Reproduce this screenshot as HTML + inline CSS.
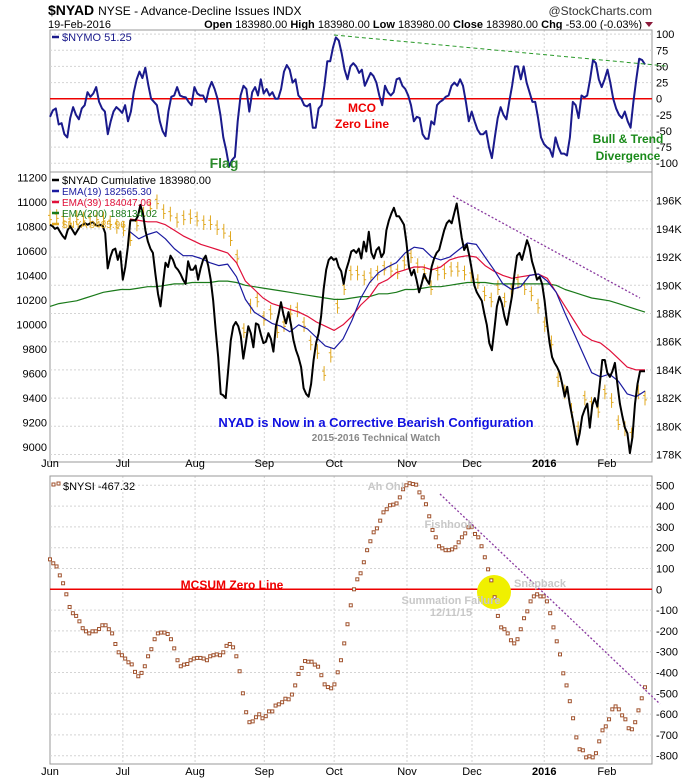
<!DOCTYPE html>
<html><head><meta charset="utf-8"><style>
body{margin:0;background:#fff}
svg{display:block;font-family:"Liberation Sans",sans-serif}
</style></head><body>
<svg id="c" width="700" height="780" viewBox="0 0 700 780">
<g>
<text x="48" y="15" font-size="14" font-weight="bold">$NYAD <tspan font-weight="normal" font-size="12">NYSE - Advance-Decline Issues INDX</tspan></text>
<text x="652" y="15" font-size="12" text-anchor="end" fill="#333">@StockCharts.com</text>
<text x="48" y="28" font-size="11">19-Feb-2016</text>
<text x="642" y="28" font-size="11" text-anchor="end"><tspan font-weight="bold">Open</tspan> 183980.00 <tspan font-weight="bold">High</tspan> 183980.00 <tspan font-weight="bold">Low</tspan> 183980.00 <tspan font-weight="bold">Close</tspan> 183980.00 <tspan font-weight="bold">Chg</tspan> -53.00 (-0.03%)</text>
<path d="M645,22 L653,22 L649,27 Z" fill="#8b1a3a"/>
</g>
<g id="grid"></g>
<g id="marks"></g>
<g id="anno" font-weight="bold">
<text x="362" y="112" fill="#e00" font-size="12" text-anchor="middle">MCO</text>
<text x="362" y="128" fill="#e00" font-size="12" text-anchor="middle">Zero Line</text>
<text x="224" y="168" fill="#2a8a2a" font-size="14" text-anchor="middle">Flag</text>
<text x="628" y="143" fill="#1a8a1a" font-size="12" text-anchor="middle">Bull &amp; Trend</text>
<text x="628" y="160" fill="#1a8a1a" font-size="12" text-anchor="middle">Divergence</text>
<text x="376" y="427" fill="#1010e0" font-size="13" text-anchor="middle">NYAD is Now in a Corrective Bearish Configuration</text>
<text x="376" y="441" fill="#888" font-size="10" text-anchor="middle">2015-2016 Technical Watch</text>
<text x="232" y="589" fill="#e00" font-size="12" text-anchor="middle">MCSUM Zero Line</text>
<text x="386" y="490" fill="#c8c8c8" font-size="11" text-anchor="middle">Ah Oh!</text>
<text x="449" y="528" fill="#c8c8c8" font-size="11" text-anchor="middle">Fishhook</text>
<text x="540" y="587" fill="#c8c8c8" font-size="11" text-anchor="middle">Snapback</text>
<text x="451" y="604" fill="#c8c8c8" font-size="11" text-anchor="middle">Summation Failure</text>
<text x="451" y="616" fill="#c8c8c8" font-size="11" text-anchor="middle">12/11/15</text>
</g>
</svg>
<script>
const months=["Jun","Jul","Aug","Sep","Oct","Nov","Dec","2016","Feb"];
const monthFrac=[0,0.121,0.241,0.356,0.472,0.593,0.701,0.821,0.925];
const moTicks=[100,75,50,25,0,-25,-50,-75,-100];
const nyaTicks=[11200,11000,10800,10600,10400,10200,10000,9800,9600,9400,9200,9000];
const adTicks=[196,194,192,190,188,186,184,182,180,178];
const siTicks=[500,400,300,200,100,0,-100,-200,-300,-400,-500,-600,-700,-800];
const nymo=[-28,-18,-15,-40,-38,-55,-60,-30,-13,-25,-32,-15,-10,10,3,8,18,-5,-15,-20,-55,-35,-20,-13,-17,-22,-10,-35,-20,10,30,42,32,48,22,0,-5,-10,-35,-50,-58,-20,3,5,18,5,3,2,-5,-10,18,8,5,5,-5,15,26,15,0,-25,-60,-80,-105,-95,-90,-35,5,20,15,-20,10,18,5,30,8,15,5,10,0,0,15,42,52,45,25,30,5,0,-10,-12,-8,-45,-45,-15,-10,20,58,58,80,95,90,70,45,30,50,55,50,40,45,20,30,40,35,25,5,-10,20,10,5,10,30,32,20,15,5,-10,-35,-28,-30,-55,-62,-62,-35,-40,-10,-5,-2,3,5,20,25,20,30,20,-5,-35,-20,-35,-48,-55,-55,-50,-75,-92,-60,-30,-13,-25,-32,-5,20,50,50,30,50,25,10,-5,-5,-30,-60,-70,-75,-78,-90,-60,-75,-85,-85,-88,-60,-5,-10,-30,5,2,5,30,60,55,30,18,30,45,25,0,-15,-25,-30,-20,-35,-45,-5,30,62,60,53];
const nyad=[194.3,194.2,194.0,194.1,193.8,193.5,193.3,193.9,194.2,193.9,193.6,193.9,194.2,194.3,194.4,194.3,194.4,194.5,194.3,194.2,194.3,194.2,193.7,191.2,192.0,192.5,192.6,191.8,192.4,190.4,191.3,192.7,194.6,194.6,194.6,194.9,195.7,195.1,193.9,193.1,192.6,192.3,190.8,189.4,188.5,190.1,191.6,191.3,192.1,191.8,191.3,191.1,190.8,190.4,190.1,191.7,191.1,191.1,191.4,190.4,191.2,191.8,192.1,191.4,190.4,188.9,186.8,184.9,182.3,182.2,182.0,184.0,186.1,187.1,187.4,187.1,186.4,184.8,185.9,187.1,186.6,185.6,187.3,187.2,186.5,185.9,186.0,186.6,186.2,185.3,187.1,187.9,188.8,187.9,187.3,188.1,187.2,186.1,185.4,184.9,184.2,182.7,182.3,182.1,183.0,184.7,185.9,186.6,187.8,189.7,191.1,191.8,192.0,191.8,191.9,191.3,191.0,190.1,191.1,191.7,192.4,192.5,192.3,192.6,191.9,193.1,192.4,193.8,192.3,191.9,192.5,192.7,192.0,192.3,193.9,194.6,195.1,195.5,194.9,194.9,194.6,194.3,193.0,191.3,190.7,191.1,190.4,189.5,190.1,190.8,190.4,190.1,191.3,191.9,192.3,192.5,193.2,193.9,194.4,194.6,194.4,195.1,195.8,194.6,193.4,192.5,192.9,192.1,191.1,190.0,189.5,189.2,188.9,188.0,187.2,185.9,185.4,186.9,188.5,189.2,188.7,187.8,187.2,188.2,189.2,190.8,192.1,192.3,191.8,192.5,193.2,192.7,191.7,191.1,190.4,190.6,190.1,188.9,187.3,185.9,184.9,184.5,184.2,183.8,183.0,182.1,182.8,181.6,180.7,179.7,178.7,179.5,180.7,181.2,181.6,179.9,181.5,182.0,181.4,183.0,184.7,184.7,183.8,183.5,183.9,184.5,183.0,181.6,180.7,179.9,179.5,178.1,179.2,181.6,183.0,183.9,183.9,183.9];
const ema19=[null,null,null,null,null,null,null,null,null,193.8,193.3,193.6,193.8,193.3,192.6,192.1,192.1,191.9,191.6,191.4,191.5,190.6,189.0,188.1,187.7,187.3,187.1,186.7,187.2,186.9,186.3,185.7,185.5,186.2,187.5,189.1,190.2,190.9,191.3,191.6,192.3,192.7,192.6,192.0,191.8,192.0,192.5,193.0,192.9,192.0,191.1,190.1,189.7,189.9,190.7,190.8,190.3,189.5,188.0,186.6,185.2,183.8,183.5,183.7,183.2,182.3,182.1,182.5];
const ema39=[null,null,null,null,null,null,null,null,null,194.7,194.6,194.5,194.5,194.3,193.9,193.5,193.2,192.9,192.7,192.5,192.3,191.6,190.3,189.7,189.1,188.7,188.5,188.3,188.1,187.8,187.4,187.1,186.8,187.2,187.8,188.6,189.2,190.1,190.4,190.9,191.1,191.3,191.3,191.1,191.3,191.8,192.0,192.1,192.0,191.4,191.0,190.7,190.5,190.6,190.7,190.8,190.5,189.5,188.5,187.5,186.5,186.1,185.9,185.4,184.8,184.2,184.0,184.0];
const ema200=[188.5,188.7,188.8,188.9,189.1,189.3,189.5,189.6,189.7,189.7,189.8,189.9,189.9,190.0,190.1,190.1,190.2,190.2,190.2,190.3,190.3,190.2,190.0,189.9,189.8,189.7,189.6,189.5,189.4,189.3,189.2,189.1,189.0,189.0,189.1,189.2,189.2,189.4,189.4,189.5,189.7,189.7,189.8,189.9,189.9,190.0,190.1,190.2,190.2,190.2,190.1,190.1,190.1,190.1,190.1,190.1,190.1,190.0,189.7,189.5,189.3,189.1,189.0,188.9,188.7,188.5,188.3,188.1];
const nya=[10870,10880,10860,10840,10870,10860,10850,10870,10860,10830,10800,10780,10700,10820,10900,10960,11000,10920,10900,10850,10870,10880,10860,10830,10830,10790,10760,10700,10550,9950,10150,10200,10050,10100,9950,10000,10100,10120,10000,9850,9780,9600,9750,10150,10300,10420,10420,10380,10400,10420,10460,10450,10430,10500,10560,10480,10430,10300,10420,10430,10450,10450,10420,10400,10350,10250,10200,10300,10200,10270,10350,10300,10250,10150,10000,9850,9550,9450,9300,9150,9400,9350,9300,9450,9380,9200,9150,9100,9450,9400];
const nyaSpread=60;
const nysi=[144,125,110,67,29,-24,-85,-115,-128,-154,-187,-202,-212,-202,-202,-191,-173,-173,-192,-212,-263,-303,-317,-333,-351,-361,-397,-418,-402,-370,-322,-288,-240,-212,-208,-208,-215,-240,-284,-341,-370,-362,-359,-341,-333,-330,-330,-333,-341,-322,-317,-313,-317,-303,-272,-263,-279,-322,-394,-500,-591,-639,-635,-615,-601,-620,-610,-587,-587,-559,-553,-543,-526,-529,-506,-462,-407,-378,-345,-348,-348,-362,-372,-413,-457,-470,-476,-457,-399,-341,-260,-168,-77,0,48,77,130,188,231,274,293,330,370,385,404,407,413,442,481,500,510,506,503,466,442,409,351,285,250,207,197,188,188,192,202,226,250,269,298,301,266,250,207,154,96,43,-38,-128,-183,-192,-212,-245,-260,-240,-192,-139,-106,-58,-34,-24,-34,-34,-58,-115,-183,-250,-313,-404,-462,-538,-620,-712,-769,-774,-808,-803,-808,-788,-731,-678,-659,-625,-577,-563,-577,-606,-625,-668,-673,-639,-582,-524,-471];

const NS='http://www.w3.org/2000/svg';
const L=50,R=652,X0=50,X1=645;
const panels=[{t:30,b:172},{t:172,b:462},{t:476,b:764}];
const yMo=v=>98.7-v*0.6453;
const yAD=v=>200.7+(196-v)*14.1;
const yNYA=v=>177.3+(11200-v)*0.12265;
const ySI=v=>589.3-v*0.208;
const xAt=(i,n)=>X0+i/(n-1)*(X1-X0);
const xMonth=f=>L+f*(R-L);
const grid=document.getElementById('grid'),marks=document.getElementById('marks');
function el(tag,attrs,parent){const e=document.createElementNS(NS,tag);for(const k in attrs)e.setAttribute(k,attrs[k]);(parent||marks).appendChild(e);return e;}
function txt(x,y,s,attrs,parent){const e=el('text',Object.assign({x:x,y:y,'font-size':11},attrs||{}),parent);e.textContent=s;return e;}

panels.forEach((p,pi)=>{
  monthFrac.forEach((f,i)=>{const l=el('line',{x1:xMonth(f),x2:xMonth(f),y1:p.t,y2:p.b,stroke:'#d4d4d4','stroke-dasharray':'2,2'},grid);
    
    });
  const r=el('rect',{x:L,y:p.t,width:R-L,height:p.b-p.t,fill:'none',stroke:'#999'},grid);
  
  
});
moTicks.forEach(v=>{el('line',{x1:L,x2:R,y1:yMo(v),y2:yMo(v),stroke:'#d4d4d4','stroke-dasharray':'2,2'},grid);
  const t=txt(656,yMo(v)+4,String(v),{});  });
adTicks.forEach(v=>{el('line',{x1:L,x2:R,y1:yAD(v),y2:yAD(v),stroke:'#d4d4d4','stroke-dasharray':'2,2'},grid);
  const t=txt(656,yAD(v)+4,v+'K',{});  });
nyaTicks.forEach(v=>{const t=txt(47,yNYA(v)+4,String(v),{'text-anchor':'end'});  });
siTicks.forEach(v=>{el('line',{x1:L,x2:R,y1:ySI(v),y2:ySI(v),stroke:'#d4d4d4','stroke-dasharray':'2,2'},grid);
  const t=txt(656,ySI(v)+4,String(v),{});  });
[467,775].forEach(y=>months.forEach((m,i)=>{const t=txt(xMonth(monthFrac[i]),y,m,{'text-anchor':'middle','font-weight':m==='2016'?'bold':'normal'});
   }));

function line(arr,yf,color,w,name){let d='';let pen=false;arr.forEach((v,i)=>{if(v===null){pen=false;return;}d+=(pen?'L':'M')+xAt(i,arr.length).toFixed(1)+','+yf(v).toFixed(1);pen=true;});
  const p=el('path',{d:d,fill:'none',stroke:color,'stroke-width':w,'stroke-linejoin':'round'});
  
  }

// top panel
const z=el('line',{x1:L,x2:R,y1:yMo(0),y2:yMo(0),stroke:'#e00','stroke-width':1.5});


line(nymo,yMo,'#1a1a8c',2,'nymo-line');
const gd=el('line',{x1:334,y1:35,x2:666,y2:66,stroke:'#2a9a2a','stroke-dasharray':'4,3','stroke-width':1});



// middle panel
nya.forEach((v,i)=>{const x=xAt(i,nya.length);
  const b=el('path',{d:`M${x},${yNYA(v+nyaSpread)}V${yNYA(v-nyaSpread)}M${x-2},${yNYA(v+nyaSpread/3)}H${x}M${x},${yNYA(v-nyaSpread/4)}H${x+2}`,stroke:'#e0a820','stroke-width':1});
  
  });
line(ema200,yAD,'#1a7a1a',1.2,'ema200-line');
line(ema39,yAD,'#e0103a',1.2,'ema39-line');
line(ema19,yAD,'#1a1aa0',1.2,'ema19-line');
line(nyad,yAD,'#000',2,'nyad-line');
const pd=el('line',{x1:453,y1:196,x2:640,y2:298,stroke:'#8a3aa0','stroke-dasharray':'2,2','stroke-width':1.3});



// bottom panel
const z2=el('line',{x1:L,x2:R,y1:ySI(0),y2:ySI(0),stroke:'#e00','stroke-width':1.5});


const yc=el('ellipse',{cx:494,cy:592,rx:17,ry:17,fill:'#f0f000'});


nysi.forEach((v,i)=>{const r=el('rect',{x:xAt(i,nysi.length)-1.5,y:ySI(v)-1.5,width:3,height:3,fill:'#fff',stroke:'#a0522d','stroke-width':1});
  
  });
const pd2=el('line',{x1:440,y1:494,x2:660,y2:704,stroke:'#8a3aa0','stroke-dasharray':'2,2','stroke-width':1.3});



// legends
function leg(y,color,label,name,fs){const g=el('g',{});
  
  
  el('line',{x1:52,x2:59,y1:y-4,y2:y-4,stroke:color,'stroke-width':2.5},g);
  const t=txt(62,y,label,{fill:color,'font-size':fs||11},g);}
leg(41,'#1a1a8c','$NYMO 51.25','nymo-legend');
leg(184,'#000','$NYAD Cumulative 183980.00','nyad-legend');
leg(195,'#1a1aa0','EMA(19) 182565.30','ema19-legend',10);
leg(206,'#e0103a','EMA(39) 184047.06','ema39-legend',10);
leg(217,'#1a7a1a','EMA(200) 188134.02','ema200-legend',10);
leg(228,'#e0a820','$NYA 9485.96','nya-legend',10);
const sl=el('g',{});


el('rect',{x:52,y:483,width:3,height:3,fill:'#fff',stroke:'#a0522d'},sl);
el('rect',{x:57,y:482,width:3,height:3,fill:'#fff',stroke:'#a0522d'},sl);
txt(63,490,'$NYSI -467.32',{},sl);
</script>
</body></html>
